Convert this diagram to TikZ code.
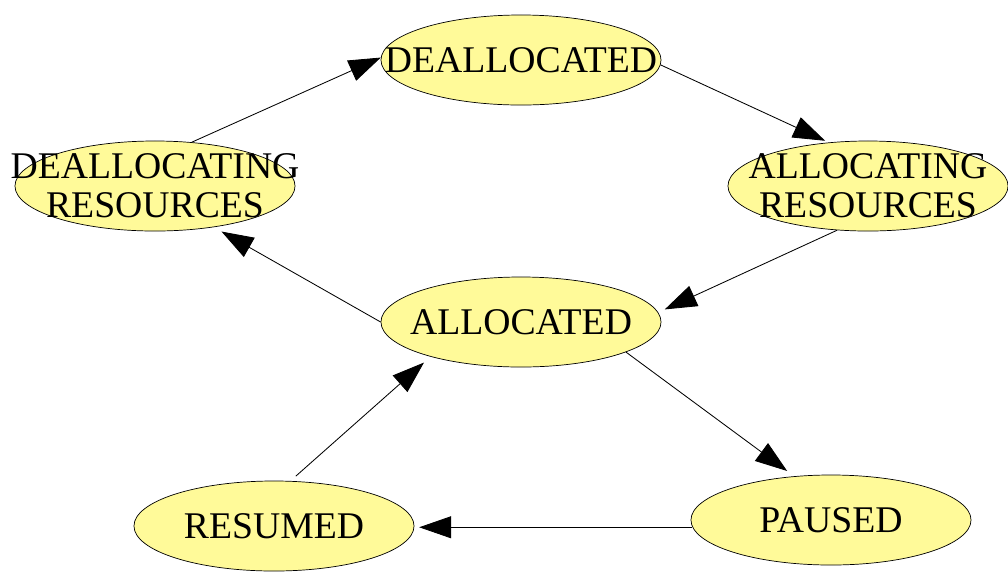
\documentclass[tikz,border=0pt]{standalone}
\usepackage{fontspec}
\setmainfont{Liberation Serif}
\usetikzlibrary{arrows.meta,shapes.geometric}

\begin{document}
\begin{tikzpicture}[x=0.025cm,y=-0.025cm,
    state/.style={ellipse, draw=black, line width=0.5pt, fill=yellow!40,
        minimum width=7cm, minimum height=2.25cm, inner sep=0pt},
    statetext/.style={font=\fontsize{26.8}{27.5}\selectfont, align=center, inner sep=0pt},
    arr/.style={-{Triangle[length=0.8cm,width=0.55cm]}, line width=0.6pt, shorten >=0.18cm}]
    \useasboundingbox (0,0) rectangle (1008,575);
    % states
    \node[state, label={[statetext]center:DEALLOCATED}] (dealloced) at (521,60) {};
    \node[state, label={[statetext]center:DEALLOCATING\\RESOURCES}] (deallocing) at (155,186) {};
    \node[state, label={[statetext]center:ALLOCATING\\RESOURCES}] (allocing) at (868,186) {};
    \node[state, label={[statetext]center:ALLOCATED}] (allocated) at (521,322) {};
    \node[state, label={[statetext]center:RESUMED}] (resumed) at (274,526) {};
    \node[state, label={[statetext]center:PAUSED}] (paused) at (831,520) {};
    % transitions
    \draw[arr, shorten >=0pt] (deallocing.50) -- (dealloced.179);
    \draw[arr, shorten >=0.1cm] (dealloced.358) -- (allocing.132);
    \draw[arr] (allocing.-125) -- (allocated.4);
    \draw[arr, shorten >=0.22cm] (allocated.180) -- (deallocing.-35);
    \draw[arr, shorten >=0.22cm] (allocated.-16) -- (paused.130);
    \draw[arr, shorten >=0.12cm] (paused.183) -- (paused.183 -| resumed.east);
    \draw[arr, shorten <=0.18cm, shorten >=0.22cm] (resumed.70) -- (allocated.201.5);
\end{tikzpicture}
\end{document}
